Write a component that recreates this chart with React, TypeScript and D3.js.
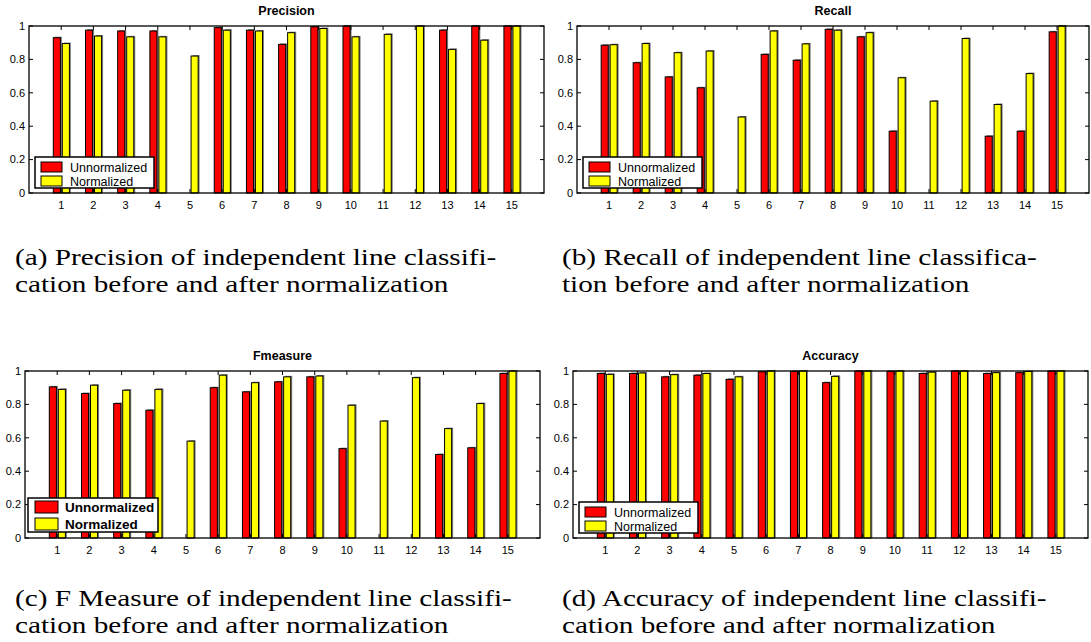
import React from "react";
import * as d3 from "d3";

// Test cases along the x axis
const cases = [1, 2, 3, 4, 5, 6, 7, 8, 9, 10, 11, 12, 13, 14, 15];
const yTicks = [0, 0.2, 0.4, 0.6, 0.8, 1];
const seriesNames = ["Unnormalized", "Normalized"];

const precisionUnnorm = [0.93, 0.975, 0.97, 0.97, 0, 0.99, 0.975, 0.89, 0.995, 1.0, 0, 0, 0.975, 1.0, 1.0];
const precisionNorm = [0.895, 0.94, 0.935, 0.935, 0.82, 0.975, 0.97, 0.96, 0.985, 0.935, 0.95, 1.0, 0.86, 0.915, 1.0];

const recallUnnorm = [0.885, 0.78, 0.695, 0.63, 0, 0.83, 0.795, 0.98, 0.935, 0.37, 0, 0, 0.34, 0.37, 0.965];
const recallNorm = [0.888, 0.895, 0.84, 0.85, 0.455, 0.97, 0.893, 0.975, 0.96, 0.69, 0.55, 0.925, 0.53, 0.715, 1.0];

const fmeasureUnnorm = [0.905, 0.865, 0.805, 0.765, 0, 0.9, 0.875, 0.935, 0.965, 0.535, 0, 0, 0.5, 0.54, 0.985];
const fmeasureNorm = [0.89, 0.915, 0.885, 0.89, 0.58, 0.975, 0.93, 0.965, 0.97, 0.795, 0.7, 0.96, 0.655, 0.805, 1.0];

const accuracyUnnorm = [0.985, 0.985, 0.965, 0.975, 0.95, 0.995, 0.998, 0.93, 1.0, 0.998, 0.985, 1.0, 0.985, 0.99, 1.0];
const accuracyNorm = [0.98, 0.988, 0.978, 0.985, 0.965, 1.0, 1.0, 0.968, 1.0, 1.0, 0.993, 1.0, 0.99, 0.997, 1.0];

const captionA = ["(a) Precision of independent line classifi-", "cation before and after normalization"];
const captionB = ["(b) Recall of independent line classifica-", "tion before and after normalization"];
const captionC = ["(c) F Measure of independent line classifi-", "cation before and after normalization"];
const captionD = ["(d) Accuracy of independent line classifi-", "cation before and after normalization"];

const SANS = "'Liberation Sans', Arial, Helvetica, sans-serif";
const SERIF = "'Liberation Serif', 'Times New Roman', serif";
const RED = "#ff0000";
const YELLOW = "#ffff00";

type PanelProps = {
  title: string;
  unnorm: number[];
  norm: number[];
  left: number;
  right: number;
  top: number;
  bottom: number;
  boldLegend?: boolean;
};

function Panel({ title, unnorm, norm, left, right, top, bottom, boldLegend }: PanelProps) {
  const x = d3.scaleLinear().domain([0, 16]).range([left, right]);
  const y = d3.scaleLinear().domain([0, 1]).range([bottom, top]);
  const step = x(1) - x(0);
  const bw = step * 0.22;
  const offsets = [-0.245 * step, 0.035 * step];
  const tickLen = 4;
  const colors = [RED, YELLOW];
  const series = [unnorm, norm];

  // legend geometry
  const lg = boldLegend
    ? { x: left + 3, w: 130, y0: bottom - 40, y1: bottom - 6, sx: left + 10, sw: 23, rows: [[bottom - 37, 12], [bottom - 20, 12]], tx: left + 40, fs: 13.5, fw: 700 }
    : { x: left + 6, w: 119, y0: bottom - 36, y1: bottom - 5, sx: left + 12, sw: 21, rows: [[bottom - 31, 10], [bottom - 17, 10]], tx: left + 41, fs: 12.5, fw: 400 };

  return (
    <g>
      <text x={(left + right) / 2} y={top - 11} textAnchor="middle" fontFamily={SANS} fontSize={12.5} fontWeight={700}>
        {title}
      </text>
      <rect x={left} y={top} width={right - left} height={bottom - top} fill="#fff" />
      {/* bars, each with a grey drop shadow */}
      {series.map((vals, si) =>
        vals.map((v, i) => {
          const bx = x(cases[i]) + offsets[si];
          const by = y(v);
          const h = y(0) - y(v);
          return (
            <g key={`${si}-${i}`}>
              {h > 0 && <rect x={bx + 1.5} y={by - 1} width={bw} height={h + 1} fill="#808080" />}
              <rect x={bx} y={by} width={bw} height={h} fill={colors[si]} stroke={h > 0 ? "#000" : "#8b0000"} strokeWidth={1} />
            </g>
          );
        })
      )}
      {/* axes box */}
      <rect x={left} y={top} width={right - left} height={bottom - top} fill="none" stroke="#000" strokeWidth={1.3} />
      {yTicks.map((t) => (
        <g key={`y${t}`}>
          <line x1={left} x2={left + tickLen} y1={y(t)} y2={y(t)} stroke="#000" />
          <line x1={right} x2={right - tickLen} y1={y(t)} y2={y(t)} stroke="#000" />
          <text x={left - 4} y={y(t)} dy="0.35em" textAnchor="end" fontFamily={SANS} fontSize={11}>
            {d3.format("~g")(t)}
          </text>
        </g>
      ))}
      {cases.map((c) => (
        <g key={`x${c}`}>
          <line x1={x(c)} x2={x(c)} y1={bottom} y2={bottom - tickLen} stroke="#000" />
          <line x1={x(c)} x2={x(c)} y1={top} y2={top + tickLen} stroke="#000" />
          <text x={x(c)} y={bottom + 16} textAnchor="middle" fontFamily={SANS} fontSize={11}>
            {c}
          </text>
        </g>
      ))}
      {/* legend */}
      <rect x={lg.x} y={lg.y0} width={lg.w} height={lg.y1 - lg.y0} fill="#fff" stroke="#000" strokeWidth={1.5} />
      {seriesNames.map((name, k) => (
        <g key={name}>
          <rect x={lg.sx} y={lg.rows[k][0]} width={lg.sw} height={lg.rows[k][1]} fill={colors[k]} stroke="#000" strokeWidth={1} />
          <text x={lg.tx} y={lg.rows[k][0] + lg.rows[k][1] / 2} dy="0.36em" fontFamily={SANS} fontSize={lg.fs} fontWeight={lg.fw}>
            {name}
          </text>
        </g>
      ))}
    </g>
  );
}

// Two-line subfigure caption, set in a wide serif
function Caption({ lines, x, y }: { lines: string[]; x: number; y: number }) {
  return (
    <g>
      {lines.map((l, i) => (
        <text key={i} transform={`translate(${x},${y + i * 27}) scale(1.3,1)`} fontFamily={SERIF} fontSize={22.5}>
          {l}
        </text>
      ))}
    </g>
  );
}

export default function App() {
  return (
    <svg width={1091} height={642} style={{ position: "absolute", left: 0, top: 0, background: "#fff" }}>
      <rect width={1091} height={642} fill="#fff" />
      <Panel title="Precision" unnorm={precisionUnnorm} norm={precisionNorm} left={29} right={544} top={26} bottom={193} />
      <Panel title="Recall" unnorm={recallUnnorm} norm={recallNorm} left={577} right={1089} top={26} bottom={193} />
      <Panel title="Fmeasure" unnorm={fmeasureUnnorm} norm={fmeasureNorm} left={25} right={540} top={371} bottom={538} boldLegend />
      <Panel title="Accuracy" unnorm={accuracyUnnorm} norm={accuracyNorm} left={573} right={1088} top={371} bottom={538} />
      <Caption lines={captionA} x={15} y={265} />
      <Caption lines={captionB} x={562} y={265} />
      <Caption lines={captionC} x={15} y={606} />
      <Caption lines={captionD} x={562} y={606} />
    </svg>
  );
}
